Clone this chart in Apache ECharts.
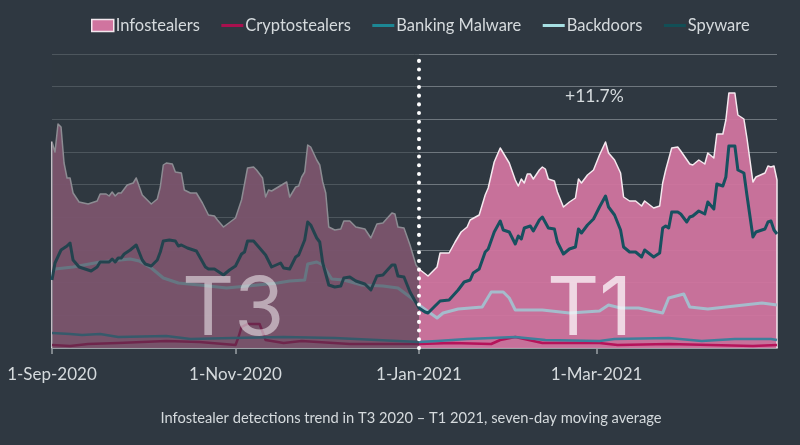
<!DOCTYPE html>
<html>
<head>
<meta charset="utf-8">
<style>
  html, body { margin: 0; padding: 0; background: #2f3841; }
  #chart { width: 800px; height: 445px; }
</style>
<script src="https://cdn.jsdelivr.net/npm/echarts@6/dist/echarts.min.js"></script>
</head>
<body>
<div id="chart"></div>
<script>
const infoDays = [0,0,1,2,3,4,5,6,7,9,12,15,16,18,19,20,21,22,23,25,27,28,30,33,35,36,37,38,40,41,43,44,46,48,50,52,54,55,57,61,63,65,67,68,70,71,72,73,78,79,81,82,83,84,85,86,88,89,90,91,92,94,96,97,99,101,104,106,108,110,113,114,115,117,119,121,122,125,128,129,132,134,136,138,139,142,144,145,147,149,151,152,154,155,156,157,158,159,160,162,163,164,165,167,168,170,172,174,175,176,178,180,182,184,185,187,189,190,192,194,196,197,200,202,203,204,206,208,209,212,213,215,217,218,220,221,223,224,225,227,228,230,231,233,234,237,238,239,240,241,241]
const infoValues = [0,206,196,224,221,185,170,170,155,146,144,147,154,154,152,156,152,155,155,163,165,170,153,144,149,161,183,185,184,176,175,158,155,155,145,133,132,128,121,130,148,180,181,178,170,151,158,157,166,151,161,162,171,176,203,201,188,183,166,155,121,118,119,127,127,121,119,110,124,125,135,134,121,120,103,83,79,72,81,95,95,106,116,121,128,133,153,160,186,200,190,185,168,162,169,165,174,174,169,178,181,179,169,167,156,141,146,150,169,165,173,178,193,206,195,188,175,151,147,147,142,147,140,142,165,178,200,201,197,184,183,188,184,195,190,214,214,228,255,255,233,229,210,166,171,175,182,181,182,168,0]

const spyDays = [0,1,3,5,6,7,9,11,13,15,16,19,20,21,22,23,24,26,28,30,31,33,35,36,37,39,41,42,43,45,48,51,52,54,57,59,61,63,64,65,67,69,71,73,76,77,79,81,82,84,85,86,88,89,90,92,94,96,97,99,101,104,106,108,110,113,114,115,117,119,122,124,125,129,132,135,137,139,140,142,144,145,147,149,150,152,154,155,156,157,159,160,162,163,165,167,168,170,172,174,175,176,178,180,182,184,185,187,189,190,192,194,196,197,200,202,203,204,205,206,208,209,211,212,213,215,217,218,220,221,223,224,225,227,228,230,231,233,234,237,238,239,240,241]
const spyValues = [68,85,98,102,105,88,81,79,77,81,86,86,89,86,90,90,94,98,103,88,84,82,88,96,107,108,107,102,103,100,97,81,79,79,73,78,82,94,96,107,107,100,93,81,85,80,79,91,93,108,126,123,110,106,85,63,61,62,70,71,67,64,58,72,73,83,83,72,71,56,40,36,35,47,48,58,66,68,75,79,96,99,116,127,118,116,104,112,109,120,122,117,128,131,120,119,106,94,99,101,119,115,123,129,141,152,141,133,118,101,96,96,91,98,91,95,120,122,120,136,136,134,126,131,132,137,134,146,139,164,162,171,202,202,178,175,153,111,116,119,126,127,118,114]

const backdoorDays = [0,1,7,16,26,29,33,37,42,49,58,65,75,79,84,85,88,90,93,97,103,110,115,119,122,128,130,135,143,146,150,152,154,163,172,182,185,189,195,203,205,210,212,218,227,236,241]
const backdoorValues = [75,79,81,86,89,87,80,70,65,63,60,62,65,67,68,84,86,83,69,68,63,62,60,51,43,30,35,39,41,56,56,50,38,38,35,37,43,40,40,35,50,54,41,39,42,45,43]

const bankingDays = [0,6,10,16,22,38,46,60,77,94,122,128,138,154,164,182,187,205,216,227,239,241]
const bankingValues = [15,14,13,14,11,12,9,10,11,10,6,7,9,11,8,7,9,10,7,9,9,8]

const cryptoDays = [0,6,12,22,38,49,61,62,63,65,69,71,77,83,99,122,133,146,149,154,163,182,188,205,233,241]
const cryptoValues = [3,2,4,5,7,6,3,11,21,24,24,8,5,7,4,4,5,4,8,11,5,5,3,4,2,3]

const tickDays = [0, 61, 122, 181]
const tickLabels = ['1-Sep-2020', '1-Nov-2020', '1-Jan-2021', '1-Mar-2021']
const legendNames = ['Infostealers', 'Cryptostealers', 'Banking Malware', 'Backdoors', 'Spyware']

const zip = (xs, ys) => xs.map((x, i) => [x, ys[i]])
const font = 'Lato'
const hideDot = { color: 'transparent', borderWidth: 0, opacity: 0 }

function lineSeries (name, days, values, color, width, z) {
  return {
    name,
    type: 'line',
    data: zip(days, values),
    symbol: 'none',
    z,
    lineStyle: { color, width, join: 'round' },
    itemStyle: { color }
  }
}

const myChart = echarts.init(document.getElementById('chart'))

myChart.setOption({
  animation: false,
  backgroundColor: '#2f3841',
  textStyle: { fontFamily: font },
  title: {
    text: 'Infostealer detections trend in T3 2020 – T1 2021, seven-day moving average',
    left: 406,
    top: 406,
    textAlign: 'center',
    textStyle: { color: '#d5dadd', fontSize: 14.7, fontWeight: 'normal', fontFamily: font }
  },
  legend: {
    top: 17,
    left: 91,
    padding: 0,
    itemWidth: 22,
    itemHeight: 12,
    itemGap: 20,
    textStyle: { color: '#d5dadd', fontSize: 16.5, fontFamily: font, padding: [0, 0, 0, -3] },
    data: [
      { name: 'Infostealers', icon: 'rect', itemStyle: { color: '#d0749f', borderColor: '#f3e8ee', borderWidth: 1.5 } },
      { name: 'Cryptostealers', itemStyle: hideDot, lineStyle: { color: '#a8104e', width: 3 } },
      { name: 'Banking Malware', itemStyle: hideDot, lineStyle: { color: '#1c8794', width: 3 } },
      { name: 'Backdoors', itemStyle: hideDot, lineStyle: { color: '#a6dfe2', width: 3 } },
      { name: 'Spyware', itemStyle: hideDot, lineStyle: { color: '#124f56', width: 3 } }
    ]
  },
  grid: { left: 52, right: 23, top: 54, bottom: 97 },
  xAxis: {
    type: 'value',
    min: 0,
    max: 241,
    splitLine: { show: false },
    axisLine: { lineStyle: { color: '#9aa0a5', width: 2 } },
    axisTick: { show: true, customValues: tickDays, length: 6, lineStyle: { color: '#9aa0a5', width: 1.5 } },
    axisLabel: {
      customValues: tickDays,
      color: '#d5dadd',
      fontSize: 17,
      fontFamily: font,
      margin: 18,
      hideOverlap: false,
      showMinLabel: true,
      formatter: value => tickLabels[tickDays.indexOf(value)]
    }
  },
  yAxis: {
    type: 'value',
    min: 0,
    max: 294,
    interval: 294 / 9,
    axisLine: { show: false },
    axisTick: { show: false },
    axisLabel: { show: false },
    splitLine: { lineStyle: { color: '#6f777e', width: 1 } }
  },
  series: [
    {
      ...lineSeries(legendNames[0], infoDays, infoValues, '#f5e9ef', 1.5, 2),
      areaStyle: { color: '#d0749f', opacity: 0.95 },
      itemStyle: { color: '#d0749f' }
    },
    lineSeries(legendNames[1], cryptoDays, cryptoValues, '#b5135a', 2.5, 3),
    lineSeries(legendNames[2], bankingDays, bankingValues, '#3f7f9b', 2.5, 4),
    lineSeries(legendNames[3], backdoorDays, backdoorValues, '#a5bccc', 3, 5),
    lineSeries(legendNames[4], spyDays, spyValues, '#17505f', 3, 6),
    {
      // veil over the T3 half plus the dotted divider
      name: 'overlay',
      type: 'line',
      data: [],
      z: 10,
      markArea: {
        silent: true,
        z: 10,
        itemStyle: { color: 'rgba(47,56,65,0.53)' },
        data: [[{ xAxis: 0 }, { xAxis: 122 }]]
      },
      markLine: {
        silent: true,
        z: 11,
        symbol: 'none',
        label: { show: false },
        lineStyle: { color: '#ffffff', width: 4, type: [0.1, 8.6], cap: 'round', opacity: 1 },
        data: [{ xAxis: 122 }]
      }
    }
  ],
  graphic: [
    { type: 'text', z: 100, left: 182, top: 270, style: { text: 'T3', fontSize: 81, fontFamily: 'Inter', fontWeight: 400, fill: 'rgba(255,255,255,0.5)' } },
    { type: 'text', z: 100, left: 547, top: 270, style: { text: 'T1', fontSize: 81, fontFamily: 'Inter', fontWeight: 400, fill: 'rgba(255,255,255,0.72)' } },
    { type: 'text', z: 100, left: 565, top: 87, style: { text: '+11.7%', fontSize: 17.5, fontFamily: font, fill: '#d5dadd' } }
  ]
})
</script>
</body>
</html>
